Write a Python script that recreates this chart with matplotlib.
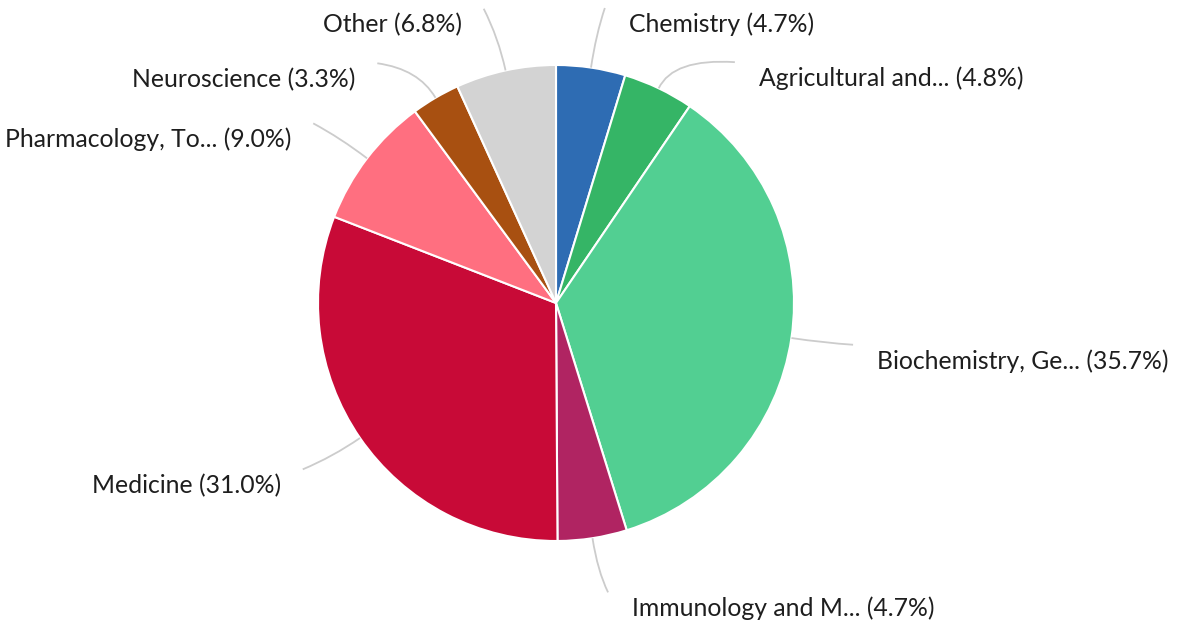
import numpy as np
import matplotlib
matplotlib.use("Agg")
from matplotlib import pyplot as plt
from matplotlib.path import Path
from matplotlib.patches import PathPatch

# share of documents per subject area
labels = ['Chemistry', 'Agricultural and...', 'Biochemistry, Ge...', 'Immunology and M...',
          'Medicine', 'Pharmacology, To...', 'Neuroscience', 'Other']
shares = [4.7, 4.8, 35.7, 4.7, 31.0, 9.0, 3.3, 6.8]
colors = ['#2e6cb3', '#35b566', '#52cf92', '#b02462', '#c80a37', '#ff6f80', '#a85011', '#d3d3d3']

# where each connector ends (degrees clockwise from 12 o'clock, distance from centre)
label_angles = [9.4, 36.6, 98.0, 169.8, 236.7, 306.5, 323.3, 346.2]
label_radius = [299, 300, 300, 294, 303, 302, 299, 303]

W, H = 1179, 622
cx, cy = 556, H - 303
r = 238

plt.rcParams['font.family'] = ['Lato', 'DejaVu Sans']
fig = plt.figure(figsize=(W / 100, H / 100), dpi=100)
ax = fig.add_axes([0, 0, 1, 1])

ax.pie(shares, colors=colors, startangle=90, counterclock=False,
       center=(cx, cy), radius=r,
       wedgeprops=dict(edgecolor='white', linewidth=1.5))
ax.set_xlim(0, W)
ax.set_ylim(0, H)
ax.set_aspect('equal')
ax.axis('off')

start = 0.0
for name, val, ang, rad in zip(labels, shares, label_angles, label_radius):
    mid = np.radians((start + val / 2) * 3.6)
    start += val
    a = np.radians(ang)
    p0 = (cx + r * np.sin(mid), cy + r * np.cos(mid))
    pc = (cx + 1.14 * r * np.sin(mid), cy + 1.14 * r * np.cos(mid))
    p1 = (cx + rad * np.sin(a), cy + rad * np.cos(a))
    path = Path([p0, pc, p1], [Path.MOVETO, Path.CURVE3, Path.CURVE3])
    ax.add_patch(PathPatch(path, facecolor='none', edgecolor='#cccccc', linewidth=1.3))
    right = np.sin(a) >= 0
    tx = p1[0] + (24 if right else -22)
    ax.text(tx, p1[1] - 16, f'{name} ({val:.1f}%)', fontsize=17.8, color='#1e1e1e',
            ha='left' if right else 'right', va='center')

fig.savefig('out.png', dpi=100)
